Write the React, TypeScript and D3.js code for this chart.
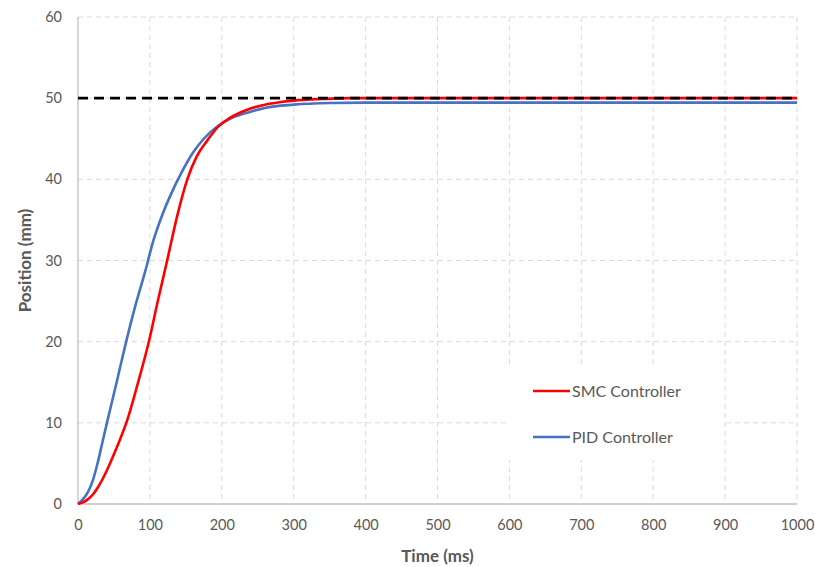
import { useEffect, useRef } from 'react';
import * as d3 from 'd3';

// Values (time in ms, position in mm)
const smcTime = [0, 7, 14, 21, 28, 35, 42, 55, 68, 83, 98, 111, 124, 138, 152, 165, 180, 195, 210, 225, 239, 260, 280, 300, 340, 378, 500, 700, 1000];
const smcPos = [0, 0.2, 0.6, 1.2, 2.1, 3.2, 4.5, 7.2, 10.2, 14.8, 19.8, 25, 30, 35.5, 40, 42.8, 44.8, 46.5, 47.5, 48.2, 48.7, 49.2, 49.5, 49.7, 49.9, 50, 50, 50, 50];
const pidTime = [0, 7, 14, 21, 28, 34, 40, 47, 54, 67, 80, 93, 105, 118, 130, 145, 160, 175, 195, 215, 239, 260, 300, 350, 400, 600, 1000];
const pidPos = [0, 0.6, 1.5, 3, 5.3, 7.6, 9.9, 12.5, 15.1, 20, 24.5, 28.5, 32.5, 35.8, 38.3, 41, 43.3, 45, 46.6, 47.6, 48.3, 48.8, 49.2, 49.4, 49.45, 49.45, 49.45];
const setpoint = 50;

const xTicks = [0, 100, 200, 300, 400, 500, 600, 700, 800, 900, 1000];
const yTicks = [0, 10, 20, 30, 40, 50, 60];
const seriesNames = ['SMC Controller', 'PID Controller'];
const seriesColors = ['#ff0000', '#4472c4'];

export default function App() {
  const svgRef = useRef<SVGSVGElement>(null);

  useEffect(() => {
    if (!svgRef.current) return;
    const width = 815;
    const height = 567;
    const margin = { top: 17, right: 18, bottom: 63, left: 78 };
    const innerW = width - margin.left - margin.right;
    const innerH = height - margin.top - margin.bottom;
    const font = 'Lato, "Open Sans", sans-serif';
    const textColor = '#595959';

    const svg = d3.select(svgRef.current);
    svg.selectAll('*').remove();
    svg.attr('width', width).attr('height', height);
    svg.append('rect').attr('width', width).attr('height', height).attr('fill', '#fff');

    const g = svg.append('g').attr('transform', `translate(${margin.left},${margin.top})`);

    const x = d3.scaleLinear().domain([0, 1000]).range([0, innerW]);
    const y = d3.scaleLinear().domain([0, 60]).range([innerH, 0]);

    // Gridlines
    g.append('g')
      .selectAll('line')
      .data(yTicks.filter(d => d > 0))
      .join('line')
      .attr('x1', 0).attr('x2', innerW)
      .attr('y1', d => y(d)).attr('y2', d => y(d))
      .attr('stroke', '#d9d9d9').attr('stroke-width', 1).attr('stroke-dasharray', '5,4');
    g.append('g')
      .selectAll('line')
      .data(xTicks.filter(d => d > 0))
      .join('line')
      .attr('x1', d => x(d)).attr('x2', d => x(d))
      .attr('y1', 0).attr('y2', innerH)
      .attr('stroke', '#d9d9d9').attr('stroke-width', 1).attr('stroke-dasharray', '5,4');

    // Axes lines
    g.append('line').attr('x1', 0).attr('x2', 0).attr('y1', 0).attr('y2', innerH)
      .attr('stroke', '#bfbfbf').attr('stroke-width', 1.3);
    g.append('line').attr('x1', 0).attr('x2', innerW).attr('y1', innerH).attr('y2', innerH)
      .attr('stroke', '#bfbfbf').attr('stroke-width', 1.3);

    // Tick labels
    g.append('g')
      .call(d3.axisBottom(x).tickValues(xTicks).tickFormat(d3.format('d')).tickSize(0).tickPadding(16))
      .attr('transform', `translate(0,${innerH})`)
      .call(ax => ax.select('.domain').remove())
      .call(ax => ax.selectAll('.tick text')
        .attr('fill', textColor).attr('font-size', '14.5px').attr('font-family', font));
    g.append('g')
      .call(d3.axisLeft(y).tickValues(yTicks).tickSize(0).tickPadding(16))
      .call(ax => ax.select('.domain').remove())
      .call(ax => ax.selectAll('.tick text')
        .attr('fill', textColor).attr('font-size', '14.5px').attr('font-family', font));

    // Axis titles
    svg.append('text')
      .attr('x', margin.left + innerW / 2).attr('y', 562)
      .attr('text-anchor', 'middle')
      .attr('fill', textColor).attr('font-size', '17px').attr('font-weight', 700).attr('font-family', font)
      .text('Time (ms)');
    svg.append('text')
      .attr('transform', `translate(31,${margin.top + innerH / 2}) rotate(-90)`)
      .attr('text-anchor', 'middle')
      .attr('fill', textColor).attr('font-size', '17px').attr('font-weight', 700).attr('font-family', font)
      .text('Position (mm)');

    // Legend background hides the grid behind it
    g.append('rect')
      .attr('x', 430).attr('y', 350).attr('width', 214).attr('height', 93)
      .attr('fill', '#fff');

    const line = d3.line<[number, number]>()
      .x(d => x(d[0]))
      .y(d => y(d[1]))
      .curve(d3.curveMonotoneX);

    const pidData = pidTime.map((t, i) => [t, pidPos[i]] as [number, number]);
    const smcData = smcTime.map((t, i) => [t, smcPos[i]] as [number, number]);

    g.append('path').datum(pidData).attr('d', line)
      .attr('fill', 'none').attr('stroke', seriesColors[1]).attr('stroke-width', 2.6);
    g.append('path').datum(smcData).attr('d', line)
      .attr('fill', 'none').attr('stroke', seriesColors[0]).attr('stroke-width', 2.6);

    // Setpoint
    g.append('line')
      .attr('x1', 0).attr('x2', innerW)
      .attr('y1', y(setpoint)).attr('y2', y(setpoint))
      .attr('stroke', '#000').attr('stroke-width', 2.6).attr('stroke-dasharray', '10,6');

    // Legend
    const legend = g.append('g').attr('transform', `translate(455,${y(0) - 113})`);
    seriesNames.forEach((name, i) => {
      const row = legend.append('g').attr('transform', `translate(0,${i * 46})`);
      row.append('line').attr('x1', 0).attr('x2', 37).attr('y1', 0).attr('y2', 0)
        .attr('stroke', seriesColors[i]).attr('stroke-width', 2.6);
      row.append('text').attr('x', 39).attr('y', 0).attr('dy', '0.35em')
        .attr('fill', textColor).attr('font-size', '16px').attr('font-family', font)
        .text(name);
    });
  }, []);

  return (
    <div style={{ position: 'absolute', left: 0, top: 0 }}>
      <svg ref={svgRef} style={{ display: 'block' }} />
    </div>
  );
}
